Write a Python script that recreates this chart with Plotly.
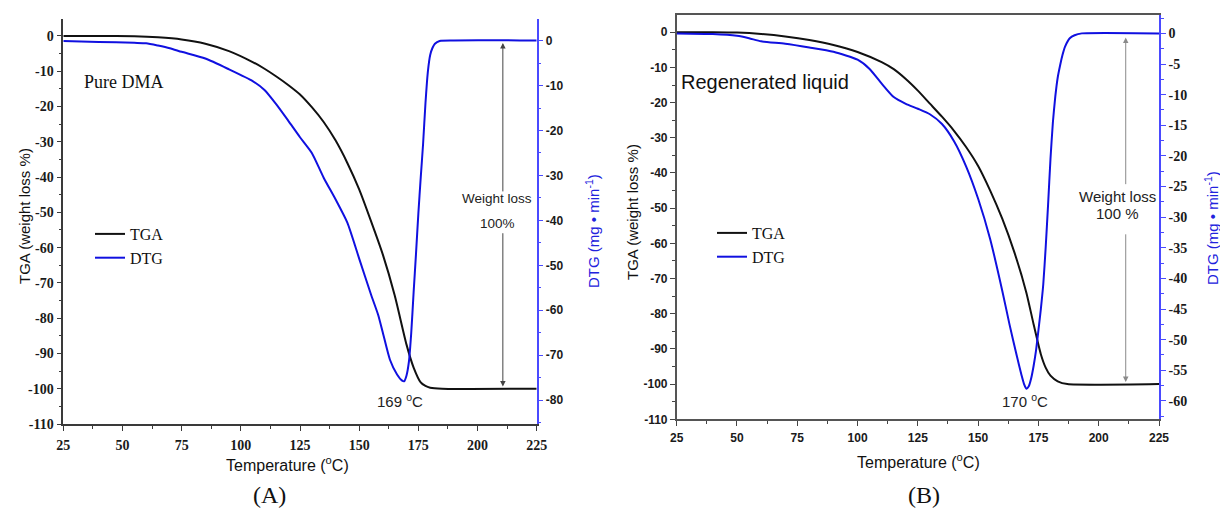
import plotly.graph_objects as go

# ---------------- data ----------------
# (A) pure DMA
temp_a_tga = [25, 40, 55, 65, 75, 85, 95, 105, 110, 115, 120, 125, 130, 135, 140, 145, 150, 155,
              160, 165, 170, 173, 176, 178, 180, 185, 225]
tga_a = [0, 0, -0.1, -0.4, -1.0, -2.2, -4.3, -7.4, -9.3, -11.5, -13.9, -16.6, -20.2, -24.4,
         -29.6, -36, -43.5, -52.5, -62, -73.5, -87.5, -94, -98.2, -99.2, -99.7, -100, -100]

temp_a_dtg = [25, 40, 55, 60, 65, 70, 75, 85, 95, 105, 110, 115, 120, 125, 130, 135, 140, 145,
              150, 155, 158, 160, 163, 166, 168, 169, 170, 171, 172, 173, 174, 175, 176, 177,
              178, 179, 180, 181, 182, 184, 190, 210, 225]
dtg_a = [-0.1, -0.3, -0.5, -0.6, -1.1, -1.7, -2.5, -4.0, -6.4, -9.0, -11.0, -14.2, -17.8, -21.5,
         -25.0, -30.5, -35.3, -40.5, -48.5, -56.5, -61.0, -65.0, -71.0, -74.3, -75.6, -75.8,
         -74.5, -71.5, -65.0, -56.0, -47.5, -38.5, -30.5, -23.0, -14.0, -7.0, -3.2, -1.6, -0.7,
         -0.1, 0.0, 0.1, 0.0]

# (B) regenerated liquid
temp_b_tga = [25, 40, 50, 60, 70, 80, 90, 100, 110, 115, 120, 125, 130, 135, 140, 145, 150,
              155, 160, 165, 170, 173, 176, 178, 180, 183, 187, 225]
tga_b = [0, 0, -0.1, -0.5, -1.2, -2.2, -3.6, -5.6, -8.5, -10.5, -13.3, -16.6, -20.3, -24.0,
         -28.0, -32.6, -38.0, -45.0, -53.0, -62.5, -74.0, -83.0, -91.5, -95.3, -97.6, -99.2,
         -100, -100]

temp_b_dtg = [25, 40, 50, 55, 60, 70, 80, 90, 100, 105, 110, 115, 120, 125, 130, 135, 140, 145,
              150, 155, 160, 163, 166, 168, 169, 170, 171, 172, 173, 174, 175, 176, 177, 178,
              179, 180, 181, 182, 183, 184, 185, 186, 188, 190, 193, 225]
dtg_b = [0, -0.1, -0.4, -0.8, -1.3, -1.7, -2.3, -3.0, -4.3, -5.8, -8.2, -10.4, -11.5, -12.3,
         -13.2, -14.8, -17.6, -21.7, -27.0, -33.6, -42.0, -47.5, -52.6, -55.8, -57.2, -58.0,
         -57.6, -56.3, -54.3, -51.8, -48.5, -45.0, -41.0, -35.0, -28.0, -20.5, -14.5, -10.3,
         -7.2, -5.2, -3.5, -2.2, -0.8, -0.3, 0, 0]

# ---------------- ticks ----------------
temp_ticks = [25, 50, 75, 100, 125, 150, 175, 200, 225]
tga_ticks = [0, -10, -20, -30, -40, -50, -60, -70, -80, -90, -100, -110]
dtg_a_ticks = [0, -10, -20, -30, -40, -50, -60, -70, -80]
dtg_b_ticks = [0, -5, -10, -15, -20, -25, -30, -35, -40, -45, -50, -55, -60]

W, H = 1220, 512
BLACK = "#111111"
BLUE = "#1010e0"
AXIS_BLUE = "#4a4aff"
FRAME = "#3a3a3a"
SERIF = "Liberation Serif"
SANS = "Liberation Sans"


def fx(px):
    return px / W


def fy(py):
    return 1 - py / H


def labels(vals):
    return [str(v) for v in vals]


serif_ticks = dict(family=SERIF, size=14, color="#1a1a1a", weight="bold")
sans_ticks = dict(family=SANS, size=12, color="#1a1a1a", weight="bold")

fig = go.Figure()

fig.add_trace(go.Scatter(x=temp_a_tga, y=tga_a, name="TGA", mode="lines",
                         line=dict(color=BLACK, width=2, shape="spline", smoothing=0.6),
                         xaxis="x", yaxis="y", legend="legend"))
fig.add_trace(go.Scatter(x=temp_a_dtg, y=dtg_a, name="DTG", mode="lines",
                         line=dict(color=BLUE, width=2, shape="spline", smoothing=0.6),
                         xaxis="x", yaxis="y2", legend="legend"))
fig.add_trace(go.Scatter(x=temp_b_tga, y=tga_b, name="TGA", mode="lines",
                         line=dict(color=BLACK, width=2, shape="spline", smoothing=0.6),
                         xaxis="x2", yaxis="y3", legend="legend2"))
fig.add_trace(go.Scatter(x=temp_b_dtg, y=dtg_b, name="DTG", mode="lines",
                         line=dict(color=BLUE, width=2, shape="spline", smoothing=0.6),
                         xaxis="x2", yaxis="y4", legend="legend2"))

common = dict(showgrid=False, zeroline=False, showline=True, linewidth=1.5)

left_dom = [fx(63.3), fx(536.7)]
right_dom = [fx(676.7), fx(1159)]
left_ydom = [fy(424), fy(19)]
right_ydom = [fy(419.3), fy(15)]

fig.update_layout(
    template="none",
    width=W, height=H, autosize=False,
    margin=dict(l=0, r=0, t=0, b=0),
    font=dict(family=SANS, size=12, color="#111"),
    paper_bgcolor="white", plot_bgcolor="white",
    xaxis=dict(domain=left_dom, anchor="y", range=[25, 225], linecolor=FRAME,
               tickmode="array", tickvals=temp_ticks, ticktext=labels(temp_ticks),
               ticks="outside", ticklen=5, tickwidth=1.2, tickcolor=FRAME, ticklabelstandoff=2,
               minor=dict(tickmode="linear", tick0=25, dtick=12.5, ticklen=3, ticks="outside",
                          tickcolor=FRAME),
               tickfont=serif_ticks, **common),
    xaxis3=dict(overlaying="x", side="top", anchor="y", range=[25, 225], linecolor=FRAME,
                tickmode="array", tickvals=temp_ticks, showticklabels=False,
                ticks="inside", ticklen=5, tickwidth=1.2, tickcolor=FRAME,
                minor=dict(tickmode="linear", tick0=25, dtick=12.5, ticklen=3, ticks="inside",
                           tickcolor=FRAME), **common),
    yaxis=dict(domain=left_ydom, anchor="x", range=[-110, 4.8], linecolor=FRAME,
               tickmode="array", tickvals=tga_ticks, ticktext=labels(tga_ticks),
               ticks="outside", ticklen=5, tickwidth=1.2, tickcolor=FRAME,
               minor=dict(tickmode="linear", tick0=0, dtick=5, ticklen=3, ticks="outside",
                          tickcolor=FRAME),
               tickfont=serif_ticks, **common),
    yaxis2=dict(overlaying="y", side="right", anchor="x", range=[-85.3, 4.8],
                linecolor=AXIS_BLUE,
                tickmode="array", tickvals=dtg_a_ticks, ticktext=labels(dtg_a_ticks),
                ticks="outside", ticklen=5, tickwidth=1.2, tickcolor=AXIS_BLUE,
                minor=dict(tickmode="linear", tick0=0, dtick=5, ticklen=3, ticks="outside",
                           tickcolor=AXIS_BLUE),
                tickfont=sans_ticks, **common),
    xaxis2=dict(domain=right_dom, anchor="y3", range=[25, 225], linecolor="#555", mirror=True,
                tickmode="array", tickvals=temp_ticks, ticktext=labels(temp_ticks),
                ticks="outside", ticklen=5, tickwidth=1.2, tickcolor="#444", ticklabelstandoff=2,
                minor=dict(tickmode="linear", tick0=25, dtick=12.5, ticklen=3, ticks="outside",
                           tickcolor="#444"),
                tickfont=sans_ticks, **common),
    yaxis3=dict(domain=right_ydom, anchor="x2", range=[-110, 4.9], linecolor="#555",
                tickmode="array", tickvals=tga_ticks, ticktext=labels(tga_ticks),
                ticks="outside", ticklen=5, tickwidth=1.2, tickcolor="#444",
                minor=dict(tickmode="linear", tick0=0, dtick=5, ticklen=3, ticks="outside",
                           tickcolor="#444"),
                tickfont=sans_ticks, **common),
    yaxis4=dict(overlaying="y3", side="right", anchor="x2", range=[-63, 3],
                linecolor=AXIS_BLUE,
                tickmode="array", tickvals=dtg_b_ticks, ticktext=labels(dtg_b_ticks),
                ticks="outside", ticklen=5, tickwidth=1.2, tickcolor=AXIS_BLUE,
                minor=dict(tickmode="linear", tick0=0, dtick=2.5, ticklen=3, ticks="outside",
                           tickcolor=AXIS_BLUE),
                tickfont=serif_ticks, **common),
    legend=dict(x=fx(90), y=fy(217), xanchor="left", yanchor="top",
                bgcolor="rgba(0,0,0,0)", borderwidth=0, tracegroupgap=0,
                font=dict(family=SERIF, size=16, color="#111")),
    legend2=dict(x=fx(712), y=fy(216), xanchor="left", yanchor="top",
                 bgcolor="rgba(0,0,0,0)", borderwidth=0, tracegroupgap=0,
                 font=dict(family=SERIF, size=16, color="#111")),
    showlegend=True,
)

annotations = []


def text_at(px, py, text, size, family=SANS, color="#111", angle=0, xanchor="center"):
    annotations.append(dict(x=fx(px), y=fy(py), xref="paper", yref="paper", text=text,
                            showarrow=False, textangle=angle, xanchor=xanchor,
                            yanchor="middle", font=dict(family=family, size=size, color=color)))


# axis titles
text_at(287, 464, "Temperature (<sup>o</sup>C)", 16)
text_at(918, 461, "Temperature (<sup>o</sup>C)", 16)
text_at(24, 216, "TGA (weight loss %)", 15, angle=-90)
text_at(632, 212, "TGA (weight loss %)", 15, angle=-90)
text_at(592, 231, "DTG (mg • min<sup>-1</sup>)", 15, color="#2222dd", angle=-90)
text_at(1211, 228, "DTG (mg • min<sup>-1</sup>)", 15, color="#2222dd", angle=-90)

# sample names and panel letters
text_at(82, 82, "Pure DMA", 18, family=SERIF, xanchor="left")
text_at(679, 82, "Regenerated liquid", 20, xanchor="left")
text_at(269, 495, "(A)", 24, family=SERIF)
text_at(924, 495, "(B)", 24, family=SERIF)

# weight-loss notes
text_at(497, 198, "Weight loss", 13.5, color="#222")
text_at(497, 223, "100%", 13.5, color="#222")
text_at(1117, 196, "Weight loss", 15, color="#222")
text_at(1117, 213, "100 %", 15, color="#222")

# peak temperature labels, taken from the DTG minima
peak_a = temp_a_dtg[dtg_a.index(min(dtg_a))]
peak_b = temp_b_dtg[dtg_b.index(min(dtg_b))]
text_at(400, 400, f"{peak_a} <sup>o</sup>C", 15, color="#222")
text_at(1025, 400, f"{peak_b} <sup>o</sup>C", 15, color="#222")


def arrow(xref, yref, x, y_tip, y_tail, color):
    annotations.append(dict(x=x, y=y_tip, ax=x, ay=y_tail, xref=xref, yref=yref,
                            axref=xref, ayref=yref, text="", showarrow=True,
                            arrowhead=2, arrowsize=1.1, arrowwidth=1, arrowcolor=color,
                            standoff=0, startstandoff=0))


# 100 % weight-loss span arrows
arrow("x", "y", 210.7, -2.0, -44.5, "#444")
arrow("x", "y", 210.7, -99.4, -55.5, "#444")
arrow("x2", "y3", 211.2, -1.5, -43.6, "#8a8a8a")
arrow("x2", "y3", 211.2, -99.4, -57.0, "#8a8a8a")

fig.update_layout(annotations=annotations)

fig.write_html("out.html")
